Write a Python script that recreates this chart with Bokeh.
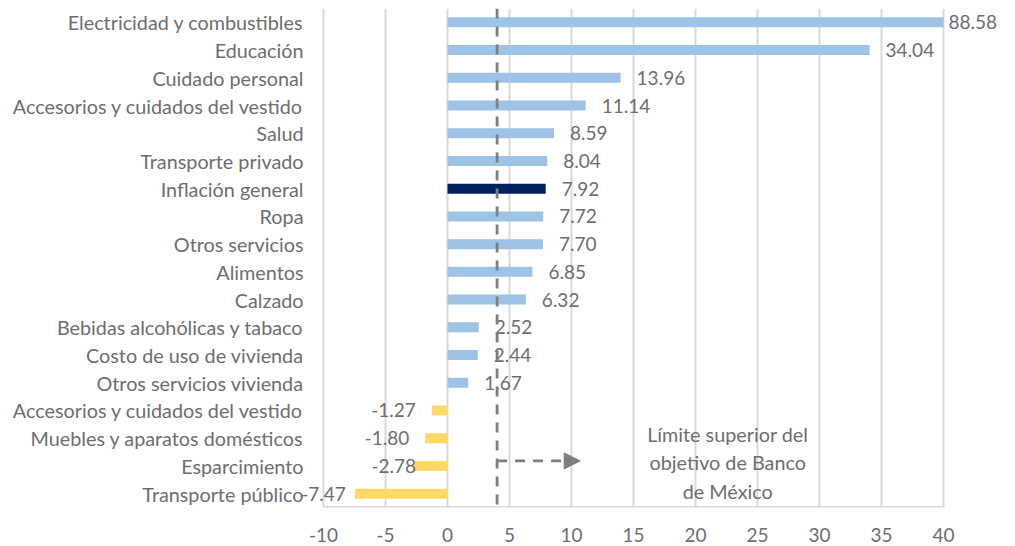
from bokeh.plotting import figure
from bokeh.models import (ColumnDataSource, Range1d, FixedTicker, Span,
                          Arrow, NormalHead, Label)
from bokeh.core.properties import value
from bokeh.embed import file_html
from bokeh.resources import INLINE

categories = [
    "Electricidad y combustibles", "Educación", "Cuidado personal",
    "Accesorios y cuidados del vestido", "Salud", "Transporte privado",
    "Inflación general", "Ropa", "Otros servicios", "Alimentos", "Calzado",
    "Bebidas alcohólicas y tabaco", "Costo de uso de vivienda",
    "Otros servicios vivienda", "Accesorios y cuidados del vestido",
    "Muebles y aparatos domésticos", "Esparcimiento", "Transporte público",
]
values = [88.58, 34.04, 13.96, 11.14, 8.59, 8.04, 7.92, 7.72, 7.70, 6.85, 6.32,
          2.52, 2.44, 1.67, -1.27, -1.80, -2.78, -7.47]
highlight = "Inflación general"
target = 4.0
x_ticks = [-10, -5, 0, 5, 10, 15, 20, 25, 30, 35, 40]
note_text = "Límite superior del\nobjetivo de Banco\nde México"

XMIN, XMAX = -10, 40
W, H = 1015, 546
FRAME_L, FRAME_R = 323, 943      # pixel positions of XMIN and XMAX
PPU = (FRAME_R - FRAME_L) / (XMAX - XMIN)
FONT = "Lato"
GRAY = "#6e6e6e"
LINE_GRAY = "#7f7f7f"
FS_TEXT = "19.8px"
FS_NUM = "19px"
NEG_LABEL_OFFSETS = [-16, -16, 3, -9]   # label nudges of the negative bars (px)

n = len(categories)
ys = list(range(n))
colors = []
for c, v in zip(categories, values):
    if c == highlight:
        colors.append("#002060")
    elif v >= 0:
        colors.append("#9DC3E6")
    else:
        colors.append("#FFD966")

shown = [min(v, XMAX) for v in values]
src = ColumnDataSource(dict(y=ys, v=shown, c=colors))
pos_idx = [i for i, v in enumerate(values) if v >= 0]
neg_idx = [i for i, v in enumerate(values) if v < 0]
src_pos = ColumnDataSource(dict(y=[ys[i] for i in pos_idx],
                                x=[shown[i] for i in pos_idx],
                                t=["%.2f" % values[i] for i in pos_idx],
                                o=[5 if values[i] > XMAX else 16 for i in pos_idx]))
src_neg = ColumnDataSource(dict(y=[ys[i] for i in neg_idx],
                                x=[values[i] for i in neg_idx],
                                t=["%.2f" % values[i] for i in neg_idx],
                                o=NEG_LABEL_OFFSETS))
src_cat = ColumnDataSource(dict(y=ys, x=[XMIN] * n, t=categories))

p = figure(width=W, height=H, output_backend="svg", toolbar_location=None,
           x_range=Range1d(XMIN - FRAME_L / PPU, XMAX + (W - FRAME_R) / PPU),
           y_range=Range1d(n - 0.5, -0.5),
           min_border_left=0, min_border_right=0, min_border_top=8,
           min_border_bottom=39)
p.outline_line_color = None
p.background_fill_color = "white"
p.yaxis.visible = False
p.ygrid.grid_line_color = None

# x axis
p.xaxis.ticker = FixedTicker(ticks=x_ticks)
p.xaxis.major_label_overrides = {t: str(t) for t in x_ticks}
p.xaxis.axis_line_color = None
p.xaxis.major_tick_line_color = None
p.xaxis.minor_tick_line_color = None
p.xaxis.major_label_text_color = GRAY
p.xaxis.major_label_text_font = FONT
p.xaxis.major_label_text_font_size = FS_NUM
p.xaxis.major_label_standoff = 14

p.xgrid.ticker = FixedTicker(ticks=x_ticks)
p.xgrid.grid_line_color = "#d9d9d9"
p.xgrid.grid_line_width = 2

# axis baseline between XMIN and XMAX
p.segment(x0=[XMIN], x1=[XMAX], y0=[n - 0.5], y1=[n - 0.5],
          line_color="#d9d9d9", line_width=3)

p.hbar(y="y", left=0, right="v", height=0.36, fill_color="c", line_color=None,
       source=src)

# category labels
p.text(x="x", y="y", text="t", source=src_cat, x_offset=-20, text_align="right",
       text_baseline="middle", text_color=GRAY, text_font=value(FONT),
       text_font_size=FS_TEXT)

# data labels
p.text(x="x", y="y", text="t", source=src_pos, x_offset="o", text_align="left",
       text_baseline="middle", text_color=GRAY, text_font=value(FONT),
       text_font_size=FS_NUM)
p.text(x="x", y="y", text="t", source=src_neg, x_offset="o", text_align="right",
       text_baseline="middle", text_color=GRAY, text_font=value(FONT),
       text_font_size=FS_NUM)

# target line
p.add_layout(Span(location=target, dimension="height", line_color=LINE_GRAY,
                  line_width=2.8, line_dash="10 8"))
arrow_y = categories.index("Esparcimiento") - 0.18
p.add_layout(Arrow(x_start=target, y_start=arrow_y, x_end=10.7, y_end=arrow_y,
                   line_color=LINE_GRAY, line_width=2.8, line_dash="10 8",
                   end=NormalHead(size=16, fill_color=LINE_GRAY, line_color=LINE_GRAY)))
p.add_layout(Label(x=22.6, y=arrow_y + 0.05, text=note_text, text_align="center",
                   text_baseline="middle", text_color=GRAY, text_font=FONT,
                   text_font_size=FS_TEXT, text_line_height=1.18))

open("out.html", "w").write(file_html(p, INLINE))
